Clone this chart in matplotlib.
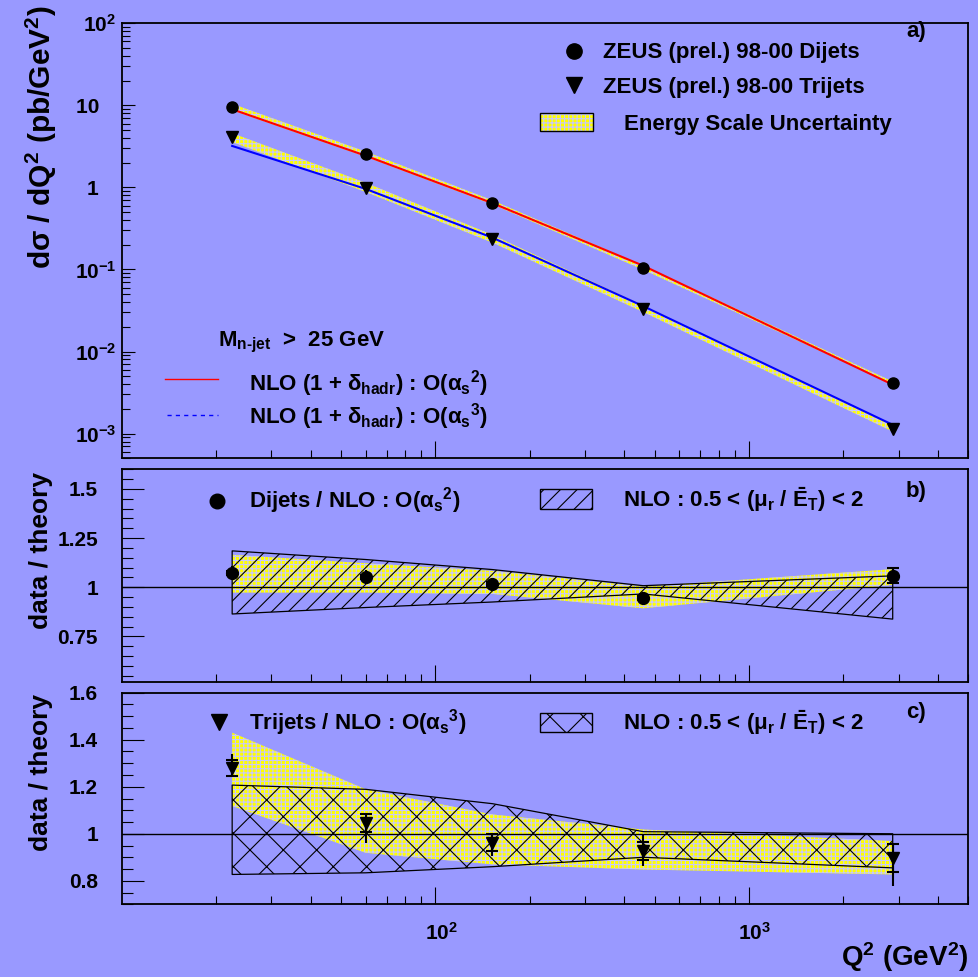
import numpy as np
import matplotlib
matplotlib.use("Agg")
import matplotlib.pyplot as plt
from matplotlib.patches import Rectangle
from matplotlib.ticker import FixedLocator, FixedFormatter, LogLocator, NullFormatter, MultipleLocator

plt.rcParams['font.family'] = ['Liberation Sans', 'DejaVu Sans']
plt.rcParams['font.weight'] = 'bold'
plt.rcParams['mathtext.fontset'] = 'custom'
plt.rcParams['mathtext.rm'] = 'Liberation Sans:bold'
plt.rcParams['mathtext.it'] = 'Liberation Sans:bold'
plt.rcParams['mathtext.bf'] = 'Liberation Sans:bold'
plt.rcParams['mathtext.sf'] = 'Liberation Sans:bold'
plt.rcParams['hatch.linewidth'] = 0.8

BG = '#9999ff'

# Q2 bin centres (GeV^2)
q2 = [22.5, 60, 152, 460, 2870]

# cross sections (pb/GeV^2)
dijet_xs = [9.6, 2.56, 0.653, 0.105, 0.00417]
dijet_nlo = [8.95, 2.43, 0.643, 0.111, 0.00395]
trijet_xs = [4.09, 0.995, 0.234, 0.033, 0.00114]
trijet_nlo = [3.2, 0.957, 0.244, 0.0357, 0.00128]

# data / theory, dijets
dijet_ratio = [1.073, 1.054, 1.017, 0.944, 1.058]
dijet_stat = [0.01, 0.01, 0.01, 0.01, 0.038]
dijet_tot = [0.035, 0.035, 0.025, 0.02, 0.04]
dijet_escale_up = [1.165, 1.122, 1.083, 1.003, 1.092]
dijet_escale_dn = [0.973, 0.973, 0.966, 0.893, 1.012]
dijet_mur_up = [1.185, 1.141, 1.09, 1.008, 1.058]
dijet_mur_dn = [0.864, 0.897, 0.925, 0.966, 0.838]

# data / theory, trijets
trijet_ratio = [1.28, 1.045, 0.962, 0.926, 0.898]
trijet_stat = [0.033, 0.037, 0.036, 0.037, 0.06]
trijet_tot_up = [0.058, 0.022, 0.028, 0.075, 0.06]
trijet_tot_dn = [0.035, 0.085, 0.057, 0.064, 0.118]
trijet_escale_up = [1.43, 1.189, 1.082, 1.018, 0.969]
trijet_escale_dn = [1.118, 0.919, 0.87, 0.848, 0.827]
trijet_mur_up = [1.207, 1.189, 1.128, 1.009, 1.0]
trijet_mur_dn = [0.827, 0.834, 0.86, 0.90, 0.855]

top_ticks = [1e-3, 1e-2, 1e-1, 1, 10, 100]
top_labels = ['$10^{-3}$', '$10^{-2}$', '$10^{-1}$', '1   ', '10   ', '$10^{2}$']


def escale_band(ax, x, lo, hi):
    ax.fill_between(x, lo, hi, facecolor='#ffff00', edgecolor='#c8c8ff',
                    hatch='++++', linewidth=0, zorder=2)


def mur_band(ax, x, lo, hi, hatch):
    ax.fill_between(x, lo, hi, facecolor='none', edgecolor='black',
                    hatch=hatch, linewidth=0.9, zorder=3)


fig = plt.figure(figsize=(9.79, 9.77), dpi=100, facecolor=BG)
L, W = 0.1243, 0.8648
ax_a = fig.add_axes([L, 0.5309, W, 0.4453])
ax_b = fig.add_axes([L, 0.3023, W, 0.2174])
ax_c = fig.add_axes([L, 0.0744, W, 0.2166])

for ax in (ax_a, ax_b, ax_c):
    ax.set_facecolor(BG)
    ax.set_xscale('log')
    ax.set_xlim(10, 5000)
    for s in ax.spines.values():
        s.set_linewidth(1.3)
    ax.tick_params(which='both', direction='in', top=False, right=False,
                   width=0.8, labelsize=15)
    ax.tick_params(axis='x', which='major', length=12)
    ax.tick_params(axis='x', which='minor', length=6)
    ax.xaxis.set_major_locator(FixedLocator([100, 1000]))
    ax.xaxis.set_minor_locator(LogLocator(base=10, subs=np.arange(2, 10)))
    ax.xaxis.set_minor_formatter(NullFormatter())

ax_a.xaxis.set_major_formatter(NullFormatter())
ax_b.xaxis.set_major_formatter(NullFormatter())
ax_c.xaxis.set_major_formatter(FixedFormatter([r'$\ \ 10^{2}$', r'$\ \ 10^{3}$']))
ax_c.tick_params(axis='x', which='major', pad=13)

# ---- panel a
x = np.array(q2)
ax_a.set_yscale('log')
ax_a.set_ylim(5e-4, 100)
ax_a.yaxis.set_major_locator(FixedLocator(top_ticks))
ax_a.yaxis.set_major_formatter(FixedFormatter(top_labels))
ax_a.yaxis.set_minor_locator(LogLocator(base=10, subs=np.arange(2, 10), numticks=20))
ax_a.yaxis.set_minor_formatter(NullFormatter())
ax_a.tick_params(axis='y', which='major', length=9, pad=4)
ax_a.tick_params(axis='y', which='minor', length=6)

escale_band(ax_a, x, np.array(dijet_nlo) * dijet_escale_dn, np.array(dijet_nlo) * dijet_escale_up)
escale_band(ax_a, x, np.array(trijet_nlo) * trijet_escale_dn, np.array(trijet_nlo) * trijet_escale_up)
ax_a.plot(x, dijet_nlo, color='#ff0000', lw=1.5, zorder=4)
ax_a.plot(x, trijet_nlo, color='#0000ff', lw=1.5, zorder=4)
ax_a.plot(x, dijet_xs, 'o', color='black', ms=8, zorder=5)
ax_a.plot(x, trijet_xs, 'v', color='black', ms=8, zorder=5)

ta = ax_a.transAxes
fs = 16
ax_a.plot([0.534], [0.937], 'o', color='black', ms=11, transform=ta, clip_on=False)
ax_a.plot([0.534], [0.858], 'v', color='black', ms=11, transform=ta, clip_on=False)
ax_a.text(0.569, 0.9195, 'ZEUS (prel.) 98-00 Dijets', transform=ta, fontsize=fs, va='baseline')
ax_a.text(0.569, 0.8405, 'ZEUS (prel.) 98-00 Trijets', transform=ta, fontsize=fs, va='baseline')
ax_a.add_patch(Rectangle((0.494, 0.752), 0.063, 0.041, transform=ta, facecolor='#ffff00',
                         edgecolor='#c8c8ff', hatch='++++', linewidth=0))
ax_a.add_patch(Rectangle((0.494, 0.752), 0.063, 0.041, transform=ta, facecolor='none',
                         edgecolor='black', linewidth=1))
ax_a.text(0.593, 0.7547, 'Energy Scale Uncertainty', transform=ta, fontsize=fs, va='baseline')
ax_a.text(0.938, 0.9685, 'a)', transform=ta, fontsize=fs, va='baseline', ha='center')

ax_a.text(0.114, 0.2582, r'M$_{\text{n-jet}}$  >  25 GeV', transform=ta, fontsize=fs, va='baseline')
ax_a.plot([0.0511, 0.114], [0.1816, 0.1816], color='#ff0000', lw=1, transform=ta)
ax_a.text(0.150, 0.157, r'NLO (1 + $\delta_{\text{hadr}}$) : O($\alpha_{\text{s}}{}^{2}$)',
          transform=ta, fontsize=fs, va='baseline')
ax_a.plot([0.053, 0.114], [0.0995, 0.0995], color='#0000ff', lw=1, ls=(0, (3, 3)), transform=ta)
ax_a.text(0.150, 0.0805, r'NLO (1 + $\delta_{\text{hadr}}$) : O($\alpha_{\text{s}}{}^{3}$)',
          transform=ta, fontsize=fs, va='baseline')

# ---- ratio panels
for ax, lim in ((ax_b, (0.52, 1.6)), (ax_c, (0.7, 1.6))):
    ax.set_ylim(*lim)
    ax.yaxis.set_minor_locator(MultipleLocator(0.05))
    ax.tick_params(axis='y', which='major', length=16, pad=17)
    ax.tick_params(axis='y', which='minor', length=8)
    ax.axhline(1, color='black', lw=1, zorder=4)

ax_b.yaxis.set_major_locator(FixedLocator([0.75, 1.0, 1.25, 1.5]))
ax_b.yaxis.set_major_formatter(FixedFormatter(['0.75', '1', '1.25', '1.5']))
ax_c.yaxis.set_major_locator(FixedLocator([0.8, 1.0, 1.2, 1.4, 1.6]))
ax_c.yaxis.set_major_formatter(FixedFormatter(['0.8', '1', '1.2', '1.4', '1.6']))

escale_band(ax_b, x, dijet_escale_dn, dijet_escale_up)
mur_band(ax_b, x, dijet_mur_dn, dijet_mur_up, '//')
ax_b.errorbar(x, dijet_ratio, yerr=dijet_tot, fmt='none', ecolor='black', elinewidth=1.5, zorder=5)
ax_b.errorbar(x, dijet_ratio, yerr=dijet_stat, fmt='none', ecolor='black', elinewidth=1.5,
              capsize=4, capthick=1.5, zorder=5)
ax_b.plot(x, dijet_ratio, 'o', color='black', ms=8.5, zorder=6)

escale_band(ax_c, x, trijet_escale_dn, trijet_escale_up)
mur_band(ax_c, x, trijet_mur_dn, trijet_mur_up, 'x')
ax_c.errorbar(x, trijet_ratio, yerr=[trijet_tot_dn, trijet_tot_up], fmt='none', ecolor='black',
              elinewidth=1.5, zorder=5)
ax_c.errorbar(x, trijet_ratio, yerr=trijet_stat, fmt='none', ecolor='black', elinewidth=1.5,
              capsize=4, capthick=1.5, zorder=5)
ax_c.plot(x, trijet_ratio, 'v', color='black', ms=9, zorder=6)

tb = ax_b.transAxes
ax_b.plot([0.113], [0.852], 'o', color='black', ms=10.5, transform=tb)
ax_b.text(0.150, 0.821, r'Dijets / NLO : O($\alpha_{\text{s}}{}^{2}$)', transform=tb,
          fontsize=fs, va='baseline')
ax_b.add_patch(Rectangle((0.494, 0.812), 0.062, 0.094, transform=tb, facecolor='none',
                         edgecolor='black', hatch='//', linewidth=1))
ax_b.text(0.592, 0.821, r'NLO : 0.5 < ($\mu_{\text{r}}$ / $\bar{\text{E}}_{\text{T}}$) < 2',
          transform=tb, fontsize=fs, va='baseline')
ax_b.text(0.938, 0.870, 'b)', transform=tb, fontsize=fs, va='baseline', ha='center')

tc = ax_c.transAxes
ax_c.plot([0.115], [0.863], 'v', color='black', ms=11, transform=tc)
ax_c.text(0.150, 0.824, r'Trijets / NLO : O($\alpha_{\text{s}}{}^{3}$)', transform=tc,
          fontsize=fs, va='baseline')
ax_c.add_patch(Rectangle((0.494, 0.813), 0.062, 0.0925, transform=tc, facecolor='none',
                         edgecolor='black', hatch='x', linewidth=1))
ax_c.text(0.592, 0.824, r'NLO : 0.5 < ($\mu_{\text{r}}$ / $\bar{\text{E}}_{\text{T}}$) < 2',
          transform=tc, fontsize=fs, va='baseline')
ax_c.text(0.938, 0.880, 'c)', transform=tc, fontsize=fs, va='baseline', ha='center')

# axis titles
fig.text(0.042, 0.995, r'd$\sigma$ / dQ$^{2}$ (pb/GeV$^{2}$)', rotation=90, ha='center', va='top', fontsize=21.5)
fig.text(0.042, 0.517, 'data / theory', rotation=90, ha='center', va='top', fontsize=19)
fig.text(0.042, 0.290, 'data / theory', rotation=90, ha='center', va='top', fontsize=19)
fig.text(0.989, 0.011, r'Q$^{2}$ (GeV$^{2}$)', ha='right', va='baseline', fontsize=20)

fig.savefig('out.png', dpi=100, facecolor=BG)
